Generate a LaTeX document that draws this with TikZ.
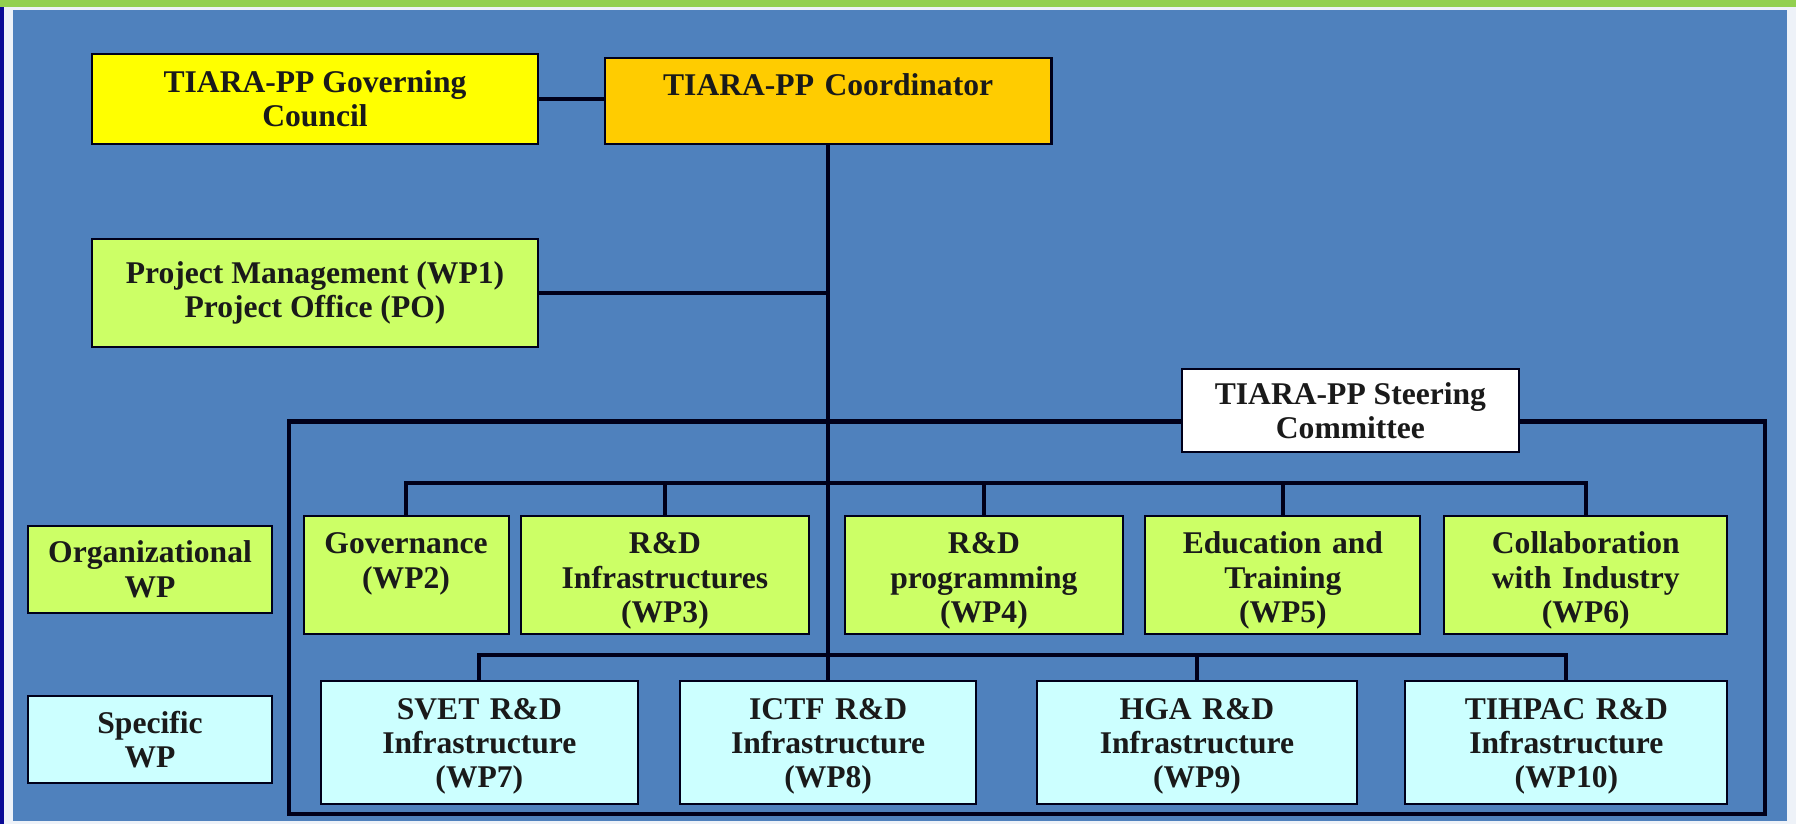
\documentclass[tikz,border=0pt]{standalone}
\usepackage{fontspec}
\setmainfont{Liberation Serif}
\newlength\pxu
\setlength\pxu{0.02cm}
\definecolor{bgblue}{HTML}{4F81BD}
\definecolor{topgreen}{HTML}{92D050}
\definecolor{sidenavy}{RGB}{10,10,150}
\definecolor{edgelight}{HTML}{EEF2F8}
\definecolor{gcyellow}{HTML}{FFFF00}
\definecolor{coordorange}{HTML}{FFCC00}
\definecolor{orglime}{HTML}{CCFF66}
\definecolor{speccyan}{HTML}{CCFFFF}
\definecolor{ink}{HTML}{00001A}
\definecolor{txt}{HTML}{1A1A1A}

\begin{document}
\begin{tikzpicture}[
    x=0.02cm, y=-0.02cm,
    every node/.style={font=\fontsize{15.7}{17}\selectfont\bfseries, text=txt},
    box/.style={draw=ink, line width=1pt, align=center, inner xsep=2pt, inner ysep=6pt},
    topbox/.style={box, inner xsep=0pt, text height=13pt},
    orgwp/.style={topbox, fill=orglime, text depth=34pt},
    specwp/.style={topbox, fill=speccyan, text depth=36pt},
    link/.style={draw=ink, line width=2pt}
]
\useasboundingbox (0,0) rectangle (1568,719);
\fill[edgelight] (0,0) rectangle (1568,719);
\fill[topgreen] (0,0) rectangle (1568,6);
\fill[sidenavy] (0,6) rectangle (3.5,719);
\fill[bgblue] (11,9) rectangle (1560,717);

\node[box, fill=gcyellow, minimum width=390\pxu, minimum height=79\pxu] (gc) at (275,86.5) {TIARA-PP Governing\\Council};
\node[topbox, fill=coordorange, text width=390\pxu, text depth=18pt] (coord) at (723,88) {TIARA-PP Coordinator};
\node[box, fill=orglime, minimum width=390\pxu, minimum height=94\pxu] (pm) at (275,256) {Project Management (WP1)\\Project Office (PO)};
\node[box, fill=white, minimum width=294\pxu, minimum height=72\pxu] (sc) at (1179,358.5) {TIARA-PP Steering\\Committee};

\node[box, fill=orglime, minimum width=213\pxu, minimum height=76\pxu] (orglbl) at (131,497) {Organizational\\WP};
\node[box, fill=speccyan, minimum width=213\pxu, minimum height=76\pxu] (speclbl) at (131,646) {Specific\\WP};

\node[orgwp, text width=179\pxu] (gov) at (354.5,502) {Governance\\(WP2)};
\node[orgwp, text width=251\pxu] (rdi) at (580.5,502) {R\&D\\Infrastructures\\(WP3)};
\node[orgwp, text width=242\pxu] (rdp) at (859,502) {R\&D\\programming\\(WP4)};
\node[orgwp, text width=240\pxu] (edu) at (1120,502) {Education and\\Training\\(WP5)};
\node[orgwp, text width=247\pxu] (col) at (1384.5,502) {Collaboration\\with Industry\\(WP6)};

\node[specwp, text width=277\pxu] (svet) at (418.5,648) {SVET R\&D\\Infrastructure\\(WP7)};
\node[specwp, text width=259\pxu] (ictf) at (723,648) {ICTF R\&D\\Infrastructure\\(WP8)};
\node[specwp, text width=280\pxu] (hga) at (1045,648) {HGA R\&D\\Infrastructure\\(WP9)};
\node[specwp, text width=281\pxu] (tihpac) at (1367.5,648) {TIHPAC R\&D\\Infrastructure\\(WP10)};

\coordinate (frtl) at (252,368);
\coordinate (frbr) at (1541,711);
\coordinate (orgbus) at (0,422);
\coordinate (specbus) at (0,572);

\draw[link] (gc.east) -- (gc.east -| coord.west);
\draw[link] (coord.south) -- (ictf.north);
\draw[link] (pm.east) -- (pm.east -| coord.south);
\draw[link] (sc.west |- frtl) -- (frtl) |- (frbr) |- (sc.east |- frtl);

\draw[link] (gov.north) |- (orgbus -| col.north) -- (col.north);
\foreach \n in {rdi,rdp,edu}
    \draw[link] (\n.north) -- (\n.north |- orgbus);

\draw[link] (svet.north) |- (specbus -| tihpac.north) -- (tihpac.north);
\draw[link] (hga.north) -- (hga.north |- specbus);
\end{tikzpicture}
\end{document}
